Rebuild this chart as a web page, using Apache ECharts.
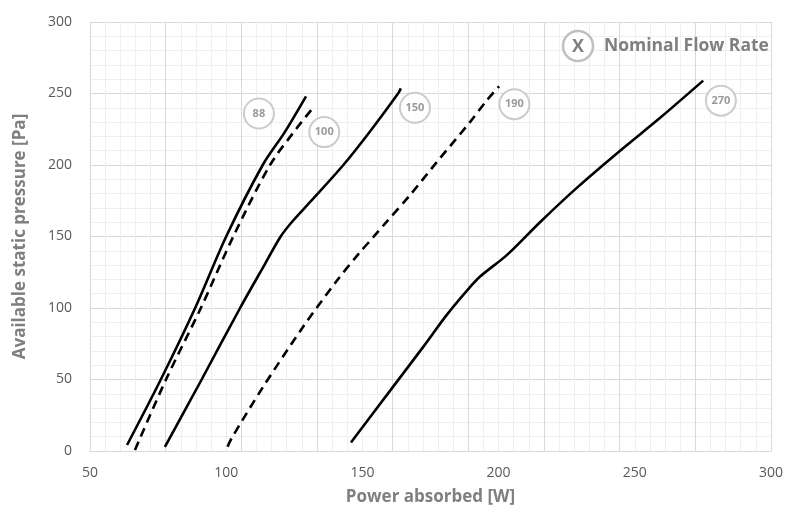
<!DOCTYPE html>
<html>
<head>
<meta charset="utf-8">
<script src="https://cdn.jsdelivr.net/npm/echarts@6/dist/echarts.min.js"></script>
<style>html,body{margin:0;padding:0;background:#fff}#c{width:798px;height:508px}</style>
</head>
<body>
<div id="c"></div>
<script>
// ---- data (Power absorbed [W], Available static pressure [Pa]) ----
const xTicks = [50, 100, 150, 200, 250, 300];
const yTicks = [0, 50, 100, 150, 200, 250, 300];

const curve88 = [[63.6,4.2],[76,50],[88.6,100],[100,150],[113.4,200],[121.5,223],[129.3,248]];
const curve100 = [[66.5,0.7],[77.9,50],[90.7,100],[102.6,150],[116.1,200],[126,226],[131.9,240]];
const curve150 = [[77.5,2.8],[91,50],[105.1,100],[114,130],[120,150],[124.5,161],[131,174.5],[143,200],[153,224],[163.1,250],[164.1,253.6]];
const curve190 = [[100.5,3],[102,9],[113.6,45],[128.3,87],[140.6,119],[149.1,139],[154,149.5],[158.3,159],[167.5,179],[177.3,202],[189.5,230],[195.6,245],[200.2,255]];
const curve270 = [[145.8,6],[161.3,45],[172.4,73],[180.9,95],[188.3,112],[193.2,122],[203,137],[215.2,160],[228.7,184],[244.6,210],[259.3,233],[275.1,259]];

const flowNames = ['88', '100', '150', '190', '270'];
const labelX = [112, 136, 169.3, 205.8, 281.6];
const labelY = [236, 223, 240, 242.5, 245];

const legendText = 'Nominal Flow Rate';

// ---- chart ----
const chart = echarts.init(document.getElementById('c'), null, {renderer: 'canvas'});
const FONT = '"Open Sans", "Noto Sans", sans-serif';
const majorC = '#d9d9d9', minorC = '#efefef';

function lineSeries(name, data, dashed) {
  return {
    name: name, type: 'line', data: data, xAxisIndex: 0, yAxisIndex: 0,
    smooth: 0.3, symbol: 'none', z: 3,
    lineStyle: {color: '#000', width: 2.6, type: dashed ? [9, 6] : 'solid', cap: 'butt'}
  };
}

const option = {
  backgroundColor: '#fff',
  animation: false,
  grid: {left: 90, right: 27, top: 22, bottom: 57, containLabel: false, outerBoundsMode: 'none'},
  xAxis: [
    {
      type: 'value', min: xTicks[0], max: xTicks[xTicks.length - 1], interval: 50,
      position: 'bottom',
      axisLine: {show: true, lineStyle: {color: majorC, width: 1}},
      axisTick: {show: false},
      splitLine: {show: false},
      axisLabel: {color: '#595959', fontSize: 14, fontFamily: FONT, margin: 15},
      name: 'Power absorbed [W]', nameLocation: 'middle', nameGap: 38,
      nameTextStyle: {color: '#7f7f7f', fontSize: 17, fontWeight: 'bold', fontFamily: FONT}
    },
    {
      type: 'value', min: 0, max: 9, interval: 1, position: 'top',
      axisLine: {show: false}, axisTick: {show: false}, axisLabel: {show: false},
      splitLine: {show: true, lineStyle: {color: majorC, width: 1}},
      minorTick: {show: false, splitNumber: 5},
      minorSplitLine: {show: true, lineStyle: {color: minorC, width: 1}}
    }
  ],
  yAxis: {
    type: 'value', min: yTicks[0], max: yTicks[yTicks.length - 1], interval: 50,
    axisLine: {show: true, lineStyle: {color: majorC, width: 1}},
    axisTick: {show: false},
    splitLine: {show: true, lineStyle: {color: majorC, width: 1}},
    minorTick: {show: false, splitNumber: 5},
    minorSplitLine: {show: true, lineStyle: {color: minorC, width: 1}},
    axisLabel: {color: '#595959', fontSize: 14, fontFamily: FONT, margin: 18},
    name: 'Available static pressure [Pa]', nameLocation: 'middle', nameGap: 61,
    nameRotate: 90,
    nameTextStyle: {color: '#7f7f7f', fontSize: 17, fontWeight: 'bold', fontFamily: FONT}
  },
  graphic: [
    {type: 'circle', shape: {cx: 578, cy: 46, r: 15}, style: {fill: '#fff', stroke: '#bfbfbf', lineWidth: 2.5}, z: 10},
    {type: 'text', x: 578, y: 47, style: {text: 'X', fill: '#7f7f7f', font: 'bold 18px ' + FONT, align: 'center', verticalAlign: 'middle'}, z: 11},
    {type: 'text', x: 604, y: 46, style: {text: legendText, fill: '#7f7f7f', font: 'bold 17.5px ' + FONT, align: 'left', verticalAlign: 'middle'}, z: 11}
  ],
  series: [
    lineSeries('88', curve88, false),
    lineSeries('100', curve100, true),
    lineSeries('150', curve150, false),
    lineSeries('190', curve190, true),
    lineSeries('270', curve270, false),
    {
      type: 'scatter', xAxisIndex: 0, yAxisIndex: 0, z: 4,
      symbol: 'circle', symbolSize: 30,
      itemStyle: {color: '#fff', borderColor: '#bfbfbf', borderWidth: 2},
      label: {show: true, position: 'inside', color: '#7f7f7f', fontSize: 11, fontWeight: 'bold', fontFamily: FONT,
        formatter: p => p.data[2]},
      data: labelX.map((x, i) => [x, labelY[i], flowNames[i]])
    }
  ]
};
chart.setOption(option);
</script>
</body>
</html>
